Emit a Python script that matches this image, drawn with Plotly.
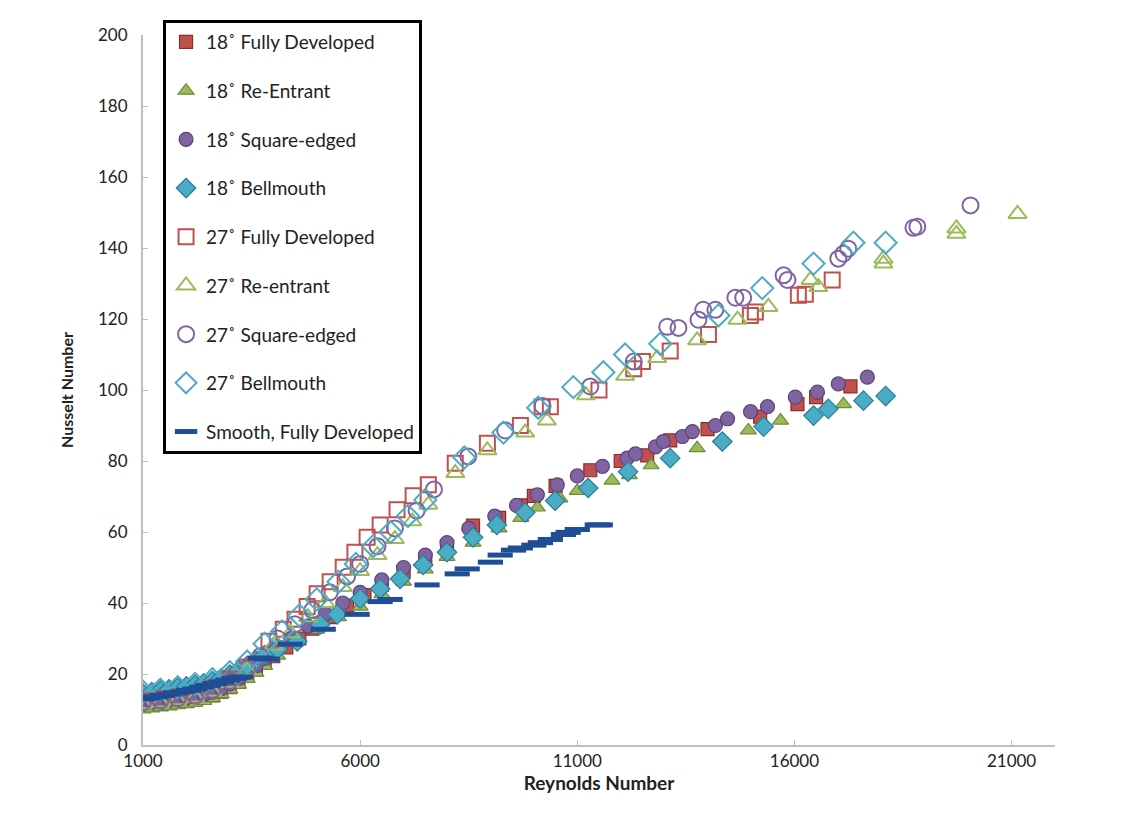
import plotly.graph_objects as go

# ---------------- data ----------------
re_18fd = [1000, 1200, 1400, 1600, 1800, 2000, 2200, 2400, 2600, 2800, 3000, 3200, 3400, 3600, 3800, 4000,
           4300, 4600, 4900, 5300, 5700, 6100, 6500, 7000, 7500, 8000, 8600, 9200, 9700, 10000, 10500,
           11300, 12000, 12610, 13140, 14000, 15210, 16070, 16500, 17290]
nu_18fd = [11.0, 11.3, 11.6, 11.9, 12.2, 12.5, 12.8, 13.3, 14.0, 15.0, 16.3, 17.8, 19.5, 21.3, 23.2, 25.0,
           27.5, 30.0, 32.8, 36.0, 39.3, 42.2, 45.2, 48.8, 52.3, 56.0, 61.8, 64.0, 67.5, 70.2, 73.0,
           77.4, 80.0, 81.6, 85.8, 89.0, 92.5, 96.0, 98.0, 101.0]

re_18re = [1000, 1200, 1400, 1600, 1800, 2000, 2200, 2400, 2600, 2800, 3000, 3200, 3400, 3600, 3800, 4100,
           4500, 5000, 5500, 6000, 6500, 7000, 7500, 8000, 8600, 9200, 9700, 10080, 10600, 11000, 11800,
           12200, 12700, 13760, 14940, 15680, 17130]
nu_18re = [10.0, 10.3, 10.6, 10.9, 11.2, 11.5, 11.9, 12.4, 13.2, 14.3, 15.6, 17.0, 18.6, 20.4, 22.3, 25.2,
           29.0, 32.5, 36.0, 39.0, 42.5, 46.0, 49.5, 53.0, 57.0, 61.0, 64.0, 66.9, 69.5, 71.6, 74.5,
           76.0, 78.8, 83.6, 88.6, 91.4, 96.0]

re_18se = [1000, 1200, 1400, 1600, 1800, 2000, 2200, 2400, 2600, 2800, 3000, 3200, 3400, 3600, 3800, 4000,
           4400, 4800, 5200, 5600, 6000, 6500, 7000, 7500, 8000, 8500, 9100, 9600, 10080, 10540, 11000,
           11580, 12150, 12340, 12800, 12980, 13420, 13650, 14180, 14460, 14990, 15380, 16020, 16530,
           17010, 17680]
nu_18se = [11.8, 12.1, 12.4, 12.7, 13.0, 13.3, 13.7, 14.2, 14.9, 15.9, 17.2, 18.7, 20.4, 22.3, 24.4, 27.0,
           30.0, 33.5, 37.0, 40.0, 43.0, 46.5, 50.0, 53.5, 57.0, 61.0, 64.5, 67.5, 70.5, 73.3, 75.8,
           78.5, 80.8, 82.0, 84.0, 85.5, 86.9, 88.3, 90.0, 91.9, 93.9, 95.3, 98.0, 99.4,
           101.7, 103.6]

re_18bm = [1000, 1200, 1400, 1600, 1800, 2000, 2200, 2400, 2600, 2800, 3000, 3200, 3400, 3600, 3800, 4100,
           4550, 5080, 5470, 6000, 6460, 6920, 7450, 8000, 8600, 9150, 9800, 10490, 11250, 12170, 13140,
           14340, 15290, 16440, 16780, 17590, 18100]
nu_18bm = [14.5, 14.9, 15.3, 15.7, 16.1, 16.5, 16.9, 17.4, 18.0, 18.8, 19.8, 21.0, 22.3, 23.8, 25.3, 27.0,
           29.2, 34.0, 36.8, 41.2, 44.0, 46.8, 50.7, 54.3, 58.5, 62.0, 65.5, 68.8, 72.4, 77.0, 80.8,
           85.5, 89.7, 92.8, 94.7, 97.0, 98.3]

re_27fd = [1000, 1400, 1800, 2200, 2600, 3000, 3400, 3900, 4230, 4500, 4780, 5010, 5310, 5610, 5880,
           6160, 6460, 6850, 7220, 7570, 8190, 8930, 9690, 10190, 10380, 11500, 12300, 12500, 13140,
           14020, 14985, 15100, 16090, 16250, 16870]
nu_27fd = [12.5, 13.0, 13.6, 14.3, 16.0, 18.5, 22.0, 29.2, 32.6, 35.4, 39.0, 42.6, 46.0, 50.1, 54.3,
           58.5, 62.0, 66.3, 70.2, 73.3, 79.4, 85.0, 90.0, 95.3, 95.3, 100.0, 106.0, 108.0, 111.0,
           115.6, 121.0, 122.0, 126.7, 127.0, 131.0]

re_27re = [1000, 1400, 1800, 2200, 2600, 3000, 3400, 4000, 4400, 4800, 5200, 5600, 6000, 6400, 6800,
           7200, 7570, 8190, 8930, 9800, 10300, 11200, 12100, 12840, 13760, 14690, 15400, 16370, 16550,
           18050, 18050, 19730, 19730, 21138]
nu_27re = [11.5, 12.0, 12.6, 13.4, 15.0, 17.5, 21.0, 28.0, 31.5, 36.0, 40.0, 44.5, 49.0, 53.5, 58.0,
           63.0, 67.7, 76.6, 83.0, 88.0, 91.4, 98.5, 104.0, 109.0, 114.0, 119.8, 123.4, 131.0, 129.0,
           137.0, 135.6, 144.0, 145.5, 149.6]

re_27se = [1000, 1400, 1800, 2200, 2600, 3000, 3400, 3700, 4100, 4500, 4900, 5300, 5700, 6000, 6400,
           6800, 7300, 7700, 8490, 9340, 10200, 11300, 12300, 13070, 13330, 13790, 13900, 14180, 14640,
           14820, 15750, 15840, 17010, 17130, 17240, 18740, 18830, 20054]
nu_27se = [12.0, 12.5, 13.1, 13.9, 15.5, 18.0, 21.5, 25.0, 30.0, 34.0, 38.0, 43.0, 47.5, 51.0, 56.0,
           61.0, 66.0, 72.0, 81.3, 88.6, 95.5, 101.0, 108.0, 117.8, 117.5, 119.8, 122.6, 122.6, 126.0,
           126.0, 132.3, 131.0, 137.0, 138.4, 139.8, 145.7, 146.0, 152.0]

re_27bm = [1000, 1400, 1800, 2200, 2600, 3000, 3400, 3800, 4200, 4600, 5000, 5500, 5900, 6300, 6700,
           7100, 7500, 8400, 9300, 10100, 10910, 11600, 12100, 12910, 14250, 15260, 16440, 17360, 18100]
nu_27bm = [15.0, 15.6, 16.3, 17.2, 18.5, 20.5, 23.5, 28.5, 32.0, 36.5, 41.0, 46.0, 51.0, 56.0, 60.0,
           64.5, 69.0, 81.0, 88.0, 95.0, 100.8, 105.0, 110.0, 113.0, 121.0, 128.7, 135.6, 141.5, 141.5]

re_smooth = [1000, 1150, 1300, 1450, 1600, 1750, 1900, 2050, 2200, 2350, 2500, 2650, 2800, 2950, 3100,
             3235, 3700, 3860, 4390, 5150, 5930, 6460, 6690, 7540, 8235, 8465, 9000, 9225, 9530, 9690,
             10000, 10150, 10380, 10680, 10790, 11000, 11460, 11530]
nu_smooth = [13.0, 13.3, 13.6, 14.0, 14.3, 14.7, 15.0, 15.4, 15.8, 16.3, 16.8, 17.3, 17.8, 18.3, 18.8,
             19.2, 24.5, 24.2, 28.4, 32.6, 36.8, 40.4, 41.0, 45.1, 48.2, 49.6, 51.5, 53.5, 54.9, 55.5,
             56.3, 57.0, 57.9, 59.3, 59.9, 60.7, 62.0, 62.0]

x_ticks = [1000, 6000, 11000, 16000, 21000]
y_ticks = [0, 20, 40, 60, 80, 100, 120, 140, 160, 180, 200]

# ---------------- figure ----------------
RED, RED_D = "#C0504D", "#8C2D2A"
GRN, GRN_D = "#9BBB59", "#6F8A3A"
PUR, PUR_D = "#8064A2", "#5B4578"
CYN, CYN_D = "#4BACC6", "#2A7E96"

fig = go.Figure()

def add(name, x, y, symbol, size, fill, edge, lw, group):
    fig.add_trace(go.Scatter(
        x=x, y=y, mode="markers", name=name, legendgroup=group,
        marker=dict(symbol=symbol, size=size, color=fill,
                    line=dict(color=edge, width=lw)),
    ))

add("18˚ Fully Developed", re_18fd, nu_18fd, "square", 13, RED, RED_D, 1.2, "a")
add("18˚ Re-Entrant", re_18re, nu_18re, "triangle-up", 14, GRN, GRN_D, 1.2, "b")
add("18˚ Square-edged", re_18se, nu_18se, "circle", 14, PUR, PUR_D, 1.2, "c")
add("18˚ Bellmouth", re_18bm, nu_18bm, "diamond", 15, CYN, CYN_D, 1.2, "d")
add("27˚ Fully Developed", re_27fd, nu_27fd, "square-open", 15, RED, RED, 2, "e")
add("27˚ Re-entrant", re_27re, nu_27re, "triangle-up-open", 16, GRN, GRN, 2, "f")
add("27˚ Square-edged", re_27se, nu_27se, "circle-open", 16, PUR, PUR, 2, "g")
add("27˚ Bellmouth", re_27bm, nu_27bm, "diamond-open", 17, CYN, CYN, 2, "h")
fig.add_trace(go.Scatter(
    x=re_smooth, y=nu_smooth, mode="markers", name="Smooth, Fully Developed", legendgroup="i",
    marker=dict(symbol="line-ew", size=18, color="#1F4E96",
                line=dict(color="#1F4E96", width=5)),
))

FONT = "Lato, 'Open Sans', sans-serif"
fig.update_layout(
    width=1138, height=822,
    margin=dict(l=135, r=91, t=19, b=85),
    paper_bgcolor="white", plot_bgcolor="white",
    font=dict(family=FONT, size=16, color="#222222"),
    showlegend=True,
    legend=dict(
        x=0.022, y=1.021, xanchor="left", yanchor="top",
        bgcolor="white", bordercolor="black", borderwidth=3,
        font=dict(family=FONT, size=19, color="#222222"),
        traceorder="grouped", tracegroupgap=21,
        itemsizing="trace", itemwidth=30,
        maxheight=600,
    ),
    xaxis=dict(
        range=[1000, 22000], tickvals=x_ticks, ticktext=[str(v) for v in x_ticks],
        showgrid=False, zeroline=False, showline=True, linecolor="#BFBFBF", linewidth=2,
        ticks="inside", ticklen=5, tickcolor="#BFBFBF",
        tickfont=dict(size=17, color="#222222"),
        title=dict(text="<b>Reynolds Number</b>", font=dict(size=19, color="#222222"), standoff=2),
    ),
    yaxis=dict(
        range=[0, 200], tickvals=y_ticks,
        showgrid=False, zeroline=False, showline=True, linecolor="#BFBFBF", linewidth=2,
        ticks="inside", ticklen=5, tickcolor="#BFBFBF",
        tickfont=dict(size=17, color="#222222"), ticklabelstandoff=10,
        title=dict(text="<b>Nusselt Number</b>", font=dict(size=16, color="#222222"), standoff=20),
    ),
)

fig.write_html("out.html")
